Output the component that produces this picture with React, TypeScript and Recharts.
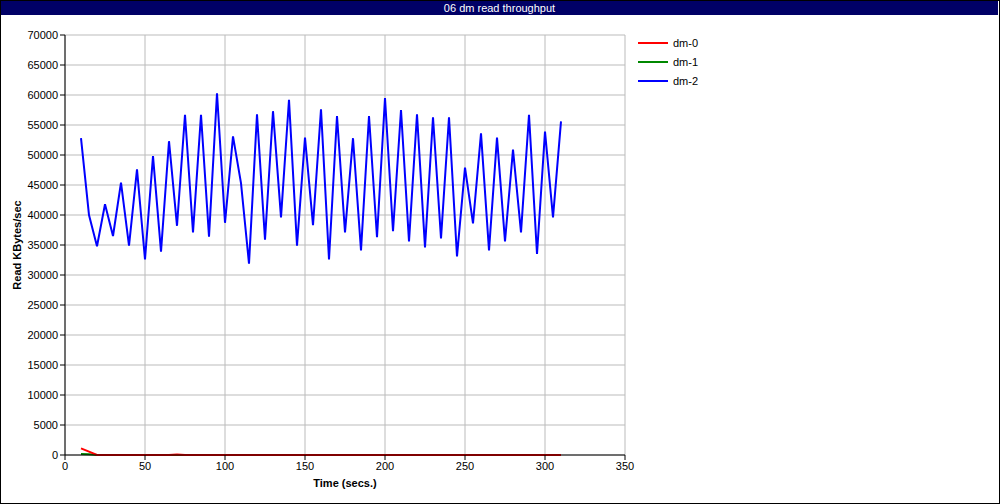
import { LineChart, Line, XAxis, YAxis, CartesianGrid } from "recharts";

const FONT = "'Liberation Sans', Arial, sans-serif";

// ---- time axis (secs.) ----
const times = [
  10, 15, 20, 25, 30, 35, 40, 45, 50, 55, 60, 65, 70, 75, 80, 85, 90, 95, 100, 105,
  110, 115, 120, 125, 130, 135, 140, 145, 150, 155, 160, 165, 170, 175, 180, 185, 190, 195, 200, 205,
  210, 215, 220, 225, 230, 235, 240, 245, 250, 255, 260, 265, 270, 275, 280, 285, 290, 295, 300, 305,
  310,
];

// ---- read KBytes/sec per device ----
const dm0 = [
  1100, 550, 0, 0, 0, 0, 0, 0, 0, 0, 0, 0, 100, 0, 0, 0, 0, 0, 0, 0,
  0, 0, 0, 0, 0, 0, 0, 0, 0, 0, 0, 0, 0, 0, 0, 0, 0, 0, 0, 0,
  0, 0, 0, 0, 0, 0, 0, 0, 0, 0, 0, 0, 0, 0, 0, 0, 0, 0, 0, 0,
  0,
];
const dm1 = [
  150, 130, 0, 0, 0, 0, 0, 0, 0, 0, 0, 0, 0, 0, 0, 0, 0, 0, 0, 0,
  0, 0, 0, 0, 0, 0, 0, 0, 0, 0, 0, 0, 0, 0, 0, 0, 0, 0, 0, 0,
  0, 0, 0, 0, 0, 0, 0, 0, 0, 0, 0, 0, 0, 0, 0, 0, 0, 0, 0, 0,
  0,
];
const dm2 = [
  52800, 40000, 34800, 41800, 36500, 45400, 34900, 47600, 32600, 49800,
  33900, 52300, 38200, 56700, 37100, 56700, 36400, 60300, 38700, 53100,
  45300, 31900, 56800, 35900, 57300, 39600, 59200, 34900, 52900, 38300,
  57600, 32600, 56500, 37100, 52800, 34100, 56500, 36300, 59500, 37300,
  57500, 35600, 56800, 34600, 56300, 36100, 56300, 33100, 47900, 38600,
  53600, 34100, 52900, 35600, 50900, 37100, 56700, 33500, 53900, 39600,
  55600,
];

const yTicks = [0, 5000, 10000, 15000, 20000, 25000, 30000, 35000, 40000, 45000, 50000, 55000, 60000, 65000, 70000];
const xTicks = [0, 50, 100, 150, 200, 250, 300, 350];

const series = [
  { key: "dm-2", values: dm2, color: "#0000ff" },
  { key: "dm-1", values: dm1, color: "#008800" },
  { key: "dm-0", values: dm0, color: "#ff0000" },
];
const legendOrder = ["dm-0", "dm-1", "dm-2"];

const data = times.map((t, i) => ({ t, "dm-0": dm0[i], "dm-1": dm1[i], "dm-2": dm2[i] }));

const tickStyle = { fontSize: 11, fill: "#000", fontFamily: FONT };

export default function App() {
  return (
    <div style={{ position: "absolute", left: 0, top: 0, width: 1000, height: 504, background: "#fff", fontFamily: FONT }}>
      <LineChart width={1000} height={504} data={data} margin={{ top: 35, right: 375, bottom: 9, left: 0 }}>
        <CartesianGrid stroke="#bbbbbb" strokeWidth={1} verticalValues={xTicks} horizontalValues={yTicks} />
        <XAxis
          type="number"
          dataKey="t"
          domain={[0, 350]}
          ticks={xTicks}
          stroke="#000"
          tickSize={5}
          tick={tickStyle}
          height={40}
          label={{ value: "Time (secs.)", position: "insideBottom", offset: 8, style: { fontSize: 11, fontWeight: "bold", fill: "#000", fontFamily: FONT } }}
        />
        <XAxis xAxisId="top" orientation="top" type="number" domain={[0, 350]} height={0} tick={false} tickLine={false} stroke="#000" />
        <YAxis
          domain={[0, 70000]}
          ticks={yTicks}
          stroke="#000"
          tickSize={5}
          tick={tickStyle}
          width={65}
          label={{ value: "Read KBytes/sec", angle: -90, position: "insideLeft", offset: 17, style: { fontSize: 11, fontWeight: "bold", fill: "#000", fontFamily: FONT, textAnchor: "middle" } }}
        />
        <YAxis yAxisId="right" orientation="right" domain={[0, 70000]} width={0} tick={false} tickLine={false} stroke="#000" />
        {series.map((s) => (
          <Line key={s.key} dataKey={s.key} stroke={s.color} strokeWidth={2} dot={false} isAnimationActive={false} type="linear" />
        ))}
      </LineChart>
      <div style={{ position: "absolute", left: 0, top: 0, width: 1000, height: 504, border: "1px solid #000", boxSizing: "border-box", pointerEvents: "none" }} />
      <div style={{ position: "absolute", left: 1, top: 1, width: 997, height: 14, background: "#000066", color: "#fff", fontSize: 11, lineHeight: "14px", textAlign: "center" }}>
        06 dm read throughput
      </div>
      {legendOrder.map((k, i) => {
        const s = series.find((x) => x.key === k)!;
        return (
          <div key={k} style={{ position: "absolute", left: 638, top: 36 + i * 19, height: 14, display: "flex", alignItems: "center", fontSize: 11 }}>
            <div style={{ width: 30, height: 2, background: s.color, marginRight: 5 }} />
            <span>{k}</span>
          </div>
        );
      })}
    </div>
  );
}
